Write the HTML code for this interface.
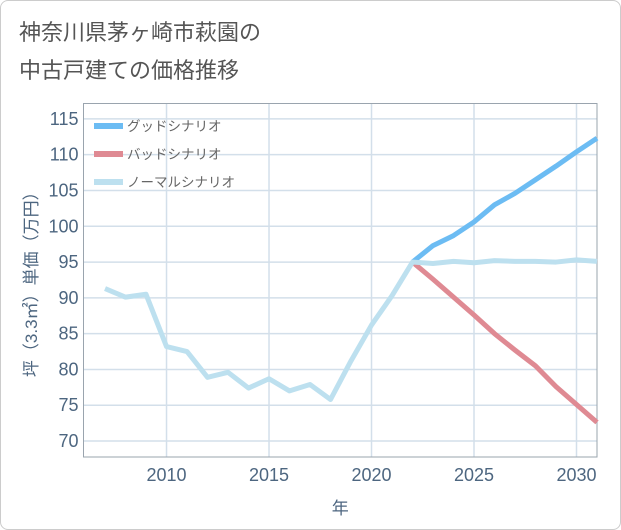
<!DOCTYPE html>
<html><head><meta charset="utf-8"><style>
body{margin:0;background:#fff;}
#wrap{position:relative;width:619px;height:528px;border:1px solid #ccc;border-radius:8px;overflow:hidden;font-family:"Liberation Sans","Noto Sans CJK JP",sans-serif;}
#title{position:absolute;left:18px;top:13px;font-size:22px;line-height:38px;color:#555;}
svg text{font-family:"Liberation Sans","Noto Sans CJK JP",sans-serif;}
</style></head><body>
<div id="wrap">
<div id="title">神奈川県茅ヶ崎市萩園の<br>中古戸建ての価格推移</div>
<svg id="chart" width="621" height="530" style="position:absolute;left:-1px;top:-1px"></svg>
</div>
<script>
const years=[2007,2008,2009,2010,2011,2012,2013,2014,2015,2016,2017,2018,2019,2020,2021,2022,2023,2024,2025,2026,2027,2028,2029,2030,2031];
const normal=[91.3,90.1,90.5,83.2,82.5,78.9,79.6,77.4,78.7,77.0,77.9,75.8,81.2,86.2,90.3,95.0,94.8,95.1,94.9,95.2,95.1,95.1,95.0,95.3,95.1];
const futureYears=[2022,2023,2024,2025,2026,2027,2028,2029,2030,2031];
const good=[95.0,97.3,98.7,100.6,103.0,104.6,106.5,108.4,110.4,112.3];
const bad=[95.0,92.6,90.1,87.6,85.0,82.7,80.5,77.6,75.1,72.6];
const yTicks=[70,75,80,85,90,95,100,105,110,115];
const xTicks=[2010,2015,2020,2025,2030];
const L=83.5,R=597,T=103.5,B=457;
const x=v=>L+(v-2005.95)/(2031-2005.95)*(R-L);
const y=v=>B-(v-67.77)/(117.15-67.77)*(B-T);
const svg=document.getElementById('chart');
const NS='http://www.w3.org/2000/svg';
function mk(t,a){const e=document.createElementNS(NS,t);for(const k in a)e.setAttribute(k,a[k]);svg.appendChild(e);return e;}
for(const v of yTicks){
 const l=mk('line',{x1:L,x2:R,y1:y(v),y2:y(v),stroke:'#d3dfea','stroke-width':1.5});
 
 
 const t=mk('text',{x:L-5,y:y(v)+6,'text-anchor':'end','font-size':18,fill:'#4d6680'});t.textContent=v;
 
 
}
for(const v of xTicks){
 const l=mk('line',{x1:x(v),x2:x(v),y1:T,y2:B,stroke:'#d3dfea','stroke-width':1.5});
 
 
 const t=mk('text',{x:x(v),y:B+24,'text-anchor':'middle','font-size':18,fill:'#4d6680'});t.textContent=v;
 
 
}
const fr=mk('rect',{x:L,y:T,width:R-L,height:B-T,fill:'none',stroke:'#9aa4ae','stroke-width':1});


function line(xs,vs,c,name){
 const p=mk('polyline',{points:xs.map((a,i)=>x(a)+','+y(vs[i])).join(' '),fill:'none',stroke:c,'stroke-width':5,'stroke-linejoin':'round'});
 
 
}
line(futureYears,good,'#6cbcf3','good-scenario-line');
line(futureYears,bad,'#df8a93','bad-scenario-line');
line(years,normal,'#bde0ef','normal-scenario-line');
const leg=[['グッドシナリオ','#6cbcf3'],['バッドシナリオ','#df8a93'],['ノーマルシナリオ','#bde0ef']];
leg.forEach((d,i)=>{
 const yy=126+i*28;
 const r=mk('rect',{x:94,y:yy-3,width:29,height:6,fill:d[1]});
 
 
 const t=mk('text',{x:127,y:yy+5,'font-size':13.5,fill:'#666'});t.textContent=d[0];
 
 
});
const xt=mk('text',{x:(L+R)/2,y:514,'text-anchor':'middle','font-size':17,fill:'#4d6680'});xt.textContent='年';


const yt=mk('text',{x:0,y:0,'text-anchor':'middle','font-size':17,fill:'#4d6680',transform:'translate(37,'+((T+B)/2)+') rotate(-90)'});yt.textContent='坪（3.3㎡）単価（万円）';


</script>
</body></html>
